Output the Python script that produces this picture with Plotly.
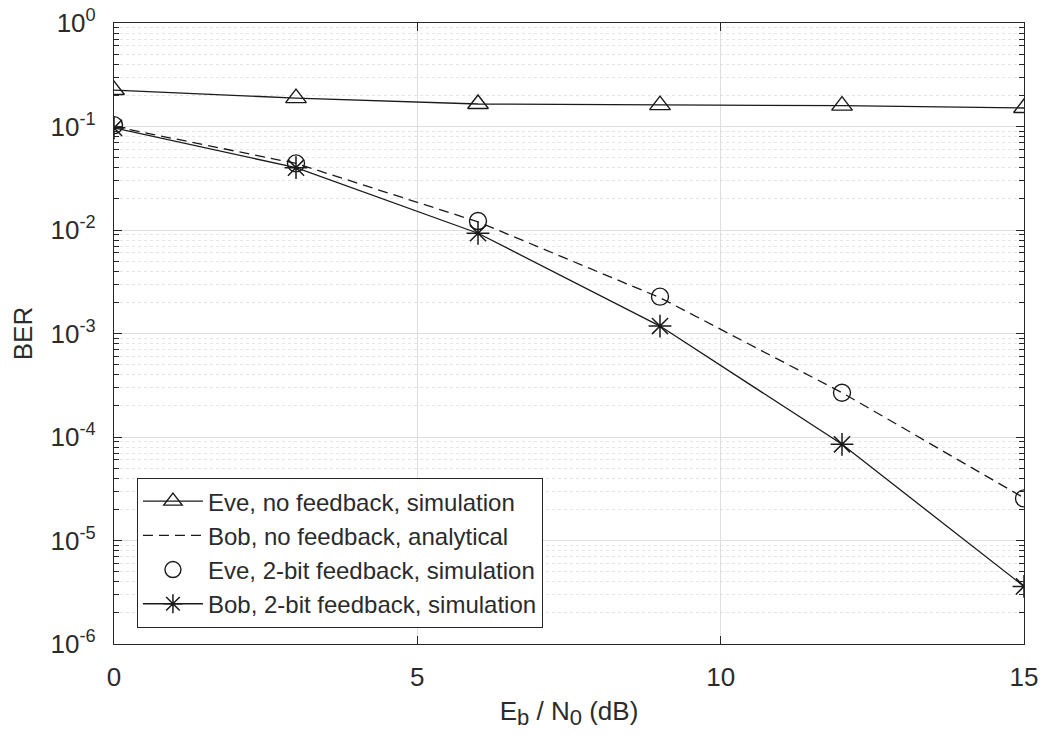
import plotly.graph_objects as go

# ---- data ----
ebn0_db = [0, 3, 6, 9, 12, 15]
eve_no_feedback_sim = [0.225, 0.188, 0.165, 0.161, 0.159, 0.151]
bob_no_feedback_analytical = [0.100, 0.0440, 0.0120, 0.00222, 2.68e-4, 2.58e-5]
eve_2bit_feedback_sim = [0.103, 0.0440, 0.0122, 0.00227, 2.68e-4, 2.55e-5]
bob_2bit_feedback_sim = [0.097, 0.0400, 0.0093, 0.00118, 8.5e-5, 3.6e-6]

series_names = [
    "Eve, no feedback, simulation",
    "Bob, no feedback, analytical",
    "Eve, 2-bit feedback, simulation",
    "Bob, 2-bit feedback, simulation",
]

y_major_vals = [1e-6, 1e-5, 1e-4, 1e-3, 1e-2, 1e-1, 1e0]
y_major_text = ["10<sup>-6</sup>", "10<sup>-5</sup>", "10<sup>-4</sup>", "10<sup>-3</sup>",
                "10<sup>-2</sup>", "10<sup>-1</sup>", "10<sup>0</sup>"]
y_minor_vals = [m * 10.0 ** e for e in range(-6, 0) for m in range(2, 10)]
x_tick_vals = [0, 5, 10, 15]
x_tick_text = ["0", "5", "10", "15"]

FONT = "Liberation Sans, Arial, Helvetica, sans-serif"
LC = "#1a1a1a"
TC = "#2b2b2b"

fig = go.Figure()
fig.add_trace(go.Scatter(
    x=ebn0_db, y=eve_no_feedback_sim, name=series_names[0], mode="lines+markers",
    line=dict(color=LC, width=1.3),
    marker=dict(symbol="triangle-up-open", size=18, color=LC, line=dict(width=1.4, color=LC)),
))
fig.add_trace(go.Scatter(
    x=ebn0_db, y=bob_no_feedback_analytical, name=series_names[1], mode="lines",
    line=dict(color=LC, width=1.3, dash="10px,6px"),
))
fig.add_trace(go.Scatter(
    x=ebn0_db, y=eve_2bit_feedback_sim, name=series_names[2], mode="markers",
    marker=dict(symbol="circle-open", size=17, color=LC, line=dict(width=1.4, color=LC)),
))
fig.add_trace(go.Scatter(
    x=ebn0_db, y=bob_2bit_feedback_sim, name=series_names[3], mode="lines+markers",
    line=dict(color=LC, width=1.3),
    marker=dict(symbol="asterisk-open", size=19, color=LC, line=dict(width=1.5, color=LC)),
))

axis_common = dict(
    showline=True, linecolor="#262626", linewidth=1.2, mirror="allticks",
    ticks="inside", tickcolor="#262626", tickwidth=1,
    showgrid=True, gridcolor="#dedede", gridwidth=1,
    zeroline=False,
    tickfont=dict(family=FONT, size=26, color=TC),
)

x_title = ('E<sub><span style="font-size:22px">b</span></sub> / '
           'N<sub><span style="font-size:22px">0</span></sub> (dB)')

fig.update_layout(
    width=1050, height=744,
    margin=dict(l=114, r=26, t=23, b=100, autoexpand=False),
    paper_bgcolor="white", plot_bgcolor="white",
    font=dict(family=FONT, size=25, color=TC),
    xaxis=dict(
        axis_common, range=[0, 15], tickmode="array", tickvals=x_tick_vals, ticktext=x_tick_text,
        ticklen=8, ticklabelstandoff=10,
        title=dict(text=x_title, font=dict(family=FONT, size=26, color=TC), standoff=10),
    ),
    yaxis=dict(
        axis_common, type="log", range=[-6, 0], tickmode="array",
        tickvals=y_major_vals, ticktext=y_major_text, ticklen=8, ticklabelstandoff=12,
        minor=dict(tickmode="array", tickvals=y_minor_vals, ticks="inside", ticklen=5,
                   tickcolor="#262626", showgrid=True, gridcolor="#e4e4e4", griddash="dot", gridwidth=1),
        title=dict(text="BER", font=dict(family=FONT, size=26, color=TC), standoff=10),
    ),
    legend=dict(
        x=0.025, y=0.026, xanchor="left", yanchor="bottom",
        bgcolor="white", bordercolor="#262626", borderwidth=1.2,
        font=dict(family=FONT, size=24, color=TC),
        itemwidth=60, tracegroupgap=0,
    ),
    showlegend=True,
)

fig.write_html("out.html")
